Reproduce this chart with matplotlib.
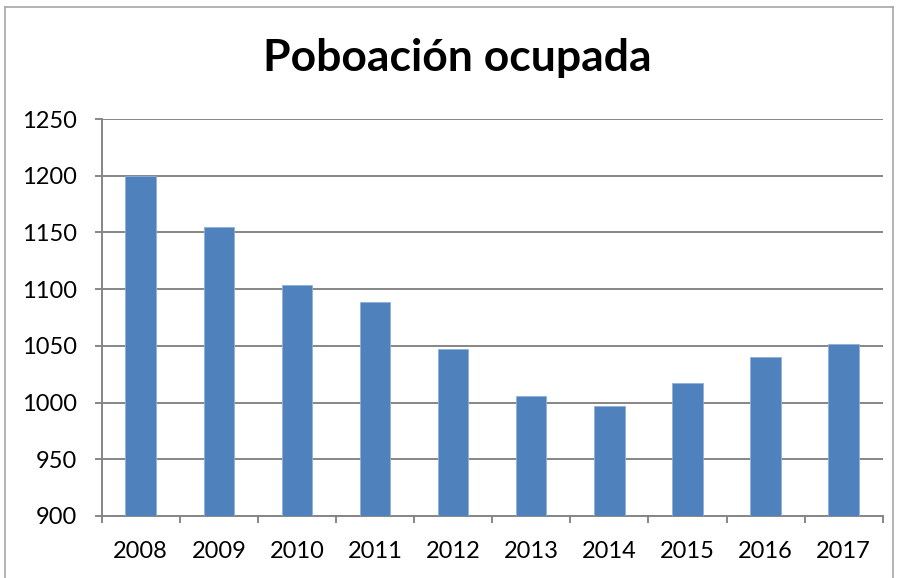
import matplotlib.pyplot as plt
from matplotlib.lines import Line2D

years = ["2008", "2009", "2010", "2011", "2012", "2013", "2014", "2015", "2016", "2017"]
ocupados = [1200, 1155, 1104, 1089, 1047, 1006, 997, 1017, 1040, 1052]
y_ticks = [900, 950, 1000, 1050, 1100, 1150, 1200, 1250]

plt.rcParams["font.family"] = ["Lato", "DejaVu Sans"]
grid_col = "#868686"

fig = plt.figure(figsize=(8.99, 5.78), dpi=100)
ax = fig.add_axes([0.1131, 0.1073, 0.9819 - 0.1131, 0.7941 - 0.1073])

x = list(range(len(years)))
ax.bar(x, ocupados, width=0.39, color="#4F81BD", edgecolor="#8DB0DD", linewidth=0.6, zorder=3)

ax.set_ylim(900, 1250)
ax.set_xlim(-0.5, len(years) - 0.5)
ax.set_yticks(y_ticks)
ax.set_yticklabels([str(v) for v in y_ticks], fontsize=17)
ax.yaxis.grid(True, color=grid_col, linewidth=1.4, zorder=0)
ax.set_axisbelow(True)

# category labels centred, tick marks on the category boundaries
ax.set_xticks(x)
ax.set_xticklabels(years, fontsize=17)
ax.tick_params(axis="x", which="major", length=0, pad=18)
ax.set_xticks([i - 0.5 for i in range(len(years) + 1)], minor=True)
ax.tick_params(axis="x", which="minor", length=5, width=1.4, color=grid_col, direction="out")
ax.tick_params(axis="y", length=5, width=1.4, color=grid_col, pad=13)

for s in ["top", "right"]:
    ax.spines[s].set_visible(False)
for s in ["left", "bottom"]:
    ax.spines[s].set_color(grid_col)
    ax.spines[s].set_linewidth(1.4)

fig.text(0.509, 0.900, "Poboación ocupada", fontsize=32, fontweight="bold",
         ha="center", va="center")

# outer chart frame (bottom edge cropped off)
l, r, t = 5 / 899, 893 / 899, 1 - 7 / 578
frame_col = "#a6a6a6"
fig.add_artist(Line2D([l, l], [0, t], transform=fig.transFigure, color=frame_col, lw=1.2))
fig.add_artist(Line2D([l, r], [t, t], transform=fig.transFigure, color=frame_col, lw=1.2))
fig.add_artist(Line2D([r, r], [0, t], transform=fig.transFigure, color=frame_col, lw=1.2))

fig.savefig("out.png", dpi=100)
